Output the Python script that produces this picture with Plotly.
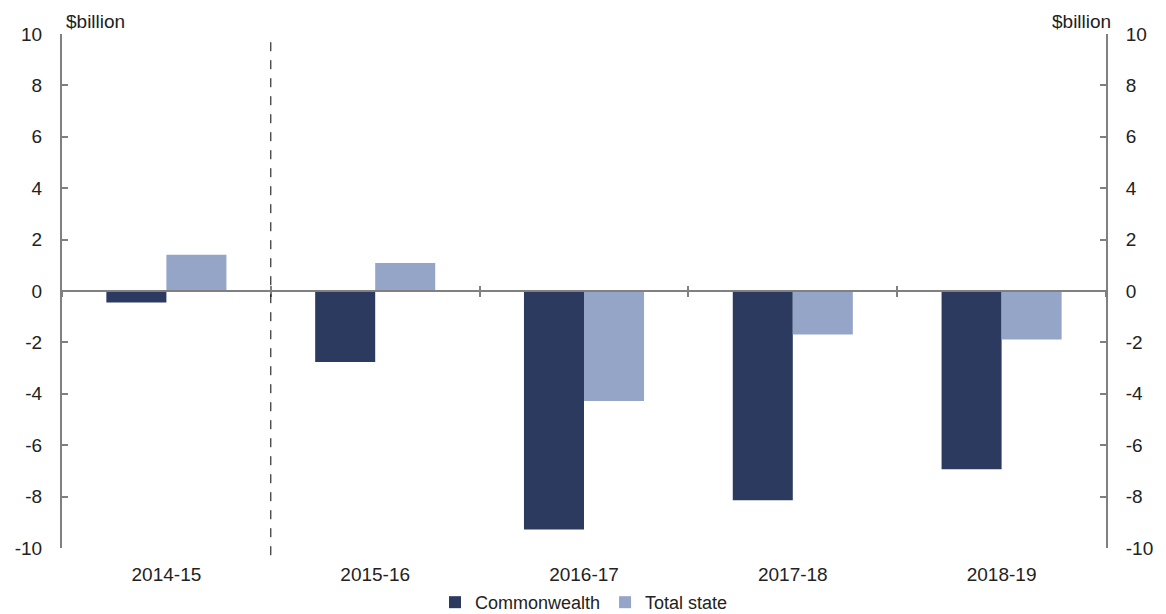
import plotly.graph_objects as go

# Budget balance by sector, $billion
years = ["2014-15", "2015-16", "2016-17", "2017-18", "2018-19"]
commonwealth = [-0.45, -2.76, -9.28, -8.14, -6.94]
total_state = [1.41, 1.09, -4.28, -1.69, -1.89]
y_ticks = [-10, -8, -6, -4, -2, 0, 2, 4, 6, 8, 10]
y_tick_text = [str(v) for v in y_ticks]

NAVY = "#2B3A5E"
LIGHT = "#95A5C8"
AXIS = "#808080"
FONT = "Liberation Sans, Arial, sans-serif"

fig = go.Figure()
fig.add_trace(go.Bar(x=years, y=commonwealth, name="Commonwealth",
                     marker=dict(color=NAVY, line=dict(width=0))))
fig.add_trace(go.Bar(x=years, y=total_state, name="Total state",
                     marker=dict(color=LIGHT, line=dict(width=0))))
# invisible trace tied to the right-hand axis so it renders
fig.add_trace(go.Bar(x=years, y=[0] * len(years), yaxis="y2", showlegend=False,
                     hoverinfo="skip", marker=dict(color="rgba(0,0,0,0)")))

yax = dict(range=[-10, 10], tickvals=y_ticks, ticktext=y_tick_text,
           showgrid=False, zeroline=False,
           showline=True, linecolor=AXIS, linewidth=2, ticks="inside",
           ticklen=6, tickwidth=2, tickcolor=AXIS,
           tickfont=dict(size=19, color="#222222", family=FONT),
           ticklabelstandoff=14)

fig.update_layout(
    width=1166, height=614,
    margin=dict(l=62, r=60, t=34, b=66, autoexpand=False),
    paper_bgcolor="white", plot_bgcolor="white",
    barmode="group", bargap=0.425, bargroupgap=0,
    font=dict(family=FONT, color="#222222"),
    xaxis=dict(showgrid=False, zeroline=False, showline=False, ticks="",
               tickfont=dict(size=19, color="#222222"), ticklabelstandoff=13),
    # zero line with category-boundary ticks, below and above
    xaxis2=dict(overlaying="x", anchor="free", position=0.5, matches="x",
                showline=True, linecolor=AXIS, linewidth=2, showgrid=False,
                ticks="outside", tickson="boundaries", ticklen=5, tickwidth=2,
                tickcolor=AXIS, showticklabels=False),
    xaxis3=dict(overlaying="x", anchor="free", position=0.5, matches="x",
                showline=False, showgrid=False,
                ticks="inside", tickson="boundaries", ticklen=5, tickwidth=2,
                tickcolor=AXIS, showticklabels=False),
    yaxis=dict(**yax, side="left"),
    yaxis2=dict(**yax, side="right", overlaying="y", matches="y"),
    legend=dict(orientation="h", x=0.5, xanchor="center",
                yref="paper", y=-0.106, yanchor="middle",
                font=dict(size=18), itemwidth=30, bgcolor="rgba(0,0,0,0)",
                tracegroupgap=0, traceorder="normal"),
    showlegend=True,
)

# dummy traces to draw the extra x axes
fig.add_trace(go.Scatter(x=years, y=[None] * 5, xaxis="x2", showlegend=False, hoverinfo="skip"))
fig.add_trace(go.Scatter(x=years, y=[None] * 5, xaxis="x3", showlegend=False, hoverinfo="skip"))

# dashed divider between the first and second year
fig.add_shape(type="line", xref="x", yref="paper", x0=0.5, x1=0.5, y0=-0.014, y1=1,
              line=dict(color="black", width=1, dash="dash"))

fig.add_annotation(text="$billion", xref="paper", yref="paper", x=0.002, y=1.0,
                   xanchor="left", yanchor="bottom", showarrow=False,
                   font=dict(size=19, color="#222222"))
fig.add_annotation(text="$billion", xref="paper", yref="paper", x=1.007, y=1.0,
                   xanchor="right", yanchor="bottom", showarrow=False,
                   font=dict(size=19, color="#222222"))

fig.write_html("out.html")
